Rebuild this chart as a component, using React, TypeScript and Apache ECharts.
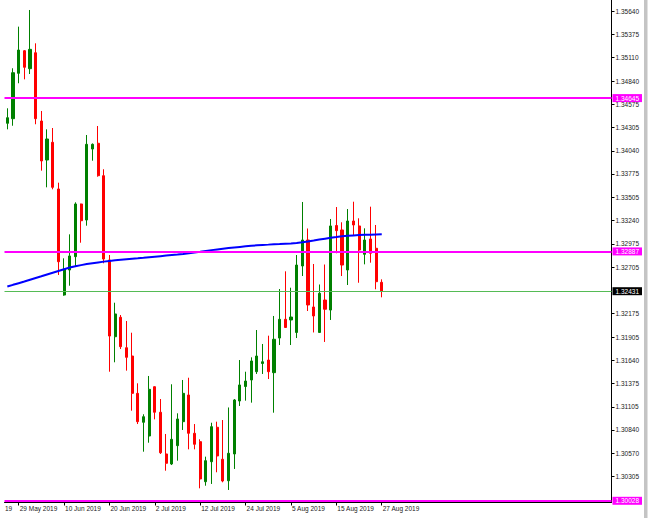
import React, { useEffect, useRef } from "react";
import * as echarts from "echarts";

const categories = [
  "27 May 2019", "28 May 2019", "29 May 2019", "30 May 2019", "31 May 2019",
  "3 Jun 2019", "4 Jun 2019", "5 Jun 2019", "6 Jun 2019", "7 Jun 2019",
  "10 Jun 2019", "11 Jun 2019", "12 Jun 2019", "13 Jun 2019", "14 Jun 2019",
  "17 Jun 2019", "18 Jun 2019", "19 Jun 2019", "20 Jun 2019", "21 Jun 2019",
  "24 Jun 2019", "25 Jun 2019", "26 Jun 2019", "27 Jun 2019", "28 Jun 2019",
  "1 Jul 2019", "2 Jul 2019", "3 Jul 2019", "4 Jul 2019", "5 Jul 2019",
  "8 Jul 2019", "9 Jul 2019", "10 Jul 2019", "11 Jul 2019", "12 Jul 2019",
  "15 Jul 2019", "16 Jul 2019", "17 Jul 2019", "18 Jul 2019", "19 Jul 2019",
  "22 Jul 2019", "23 Jul 2019", "24 Jul 2019", "25 Jul 2019", "26 Jul 2019",
  "29 Jul 2019", "30 Jul 2019", "31 Jul 2019", "1 Aug 2019", "2 Aug 2019",
  "5 Aug 2019", "6 Aug 2019", "7 Aug 2019", "8 Aug 2019", "9 Aug 2019",
  "12 Aug 2019", "13 Aug 2019", "14 Aug 2019", "15 Aug 2019", "16 Aug 2019",
  "19 Aug 2019", "20 Aug 2019", "21 Aug 2019", "22 Aug 2019", "23 Aug 2019",
  "26 Aug 2019", "27 Aug 2019",
];

const xLabelDates = [
  "29 May 2019", "10 Jun 2019", "20 Jun 2019", "2 Jul 2019", "12 Jul 2019",
  "24 Jul 2019", "5 Aug 2019", "15 Aug 2019", "27 Aug 2019",
];

const opens = [
  1.34356, 1.34409, 1.34929, 1.35188, 1.34982, 1.35165, 1.34382, 1.33935, 1.34138, 1.33603,
  1.32387, 1.32674, 1.32827, 1.33431, 1.33247, 1.34061, 1.34127, 1.33755, 1.32789, 1.31909,
  1.32132, 1.31783, 1.31688, 1.3126, 1.30928, 1.30771, 1.31336, 1.31043, 1.30565, 1.3045,
  1.3066, 1.30935, 1.31241, 1.30802, 1.30706, 1.30247, 1.30476, 1.30871, 1.30504, 1.30258,
  1.30565, 1.31172, 1.31338, 1.31413, 1.31508, 1.31602, 1.31642, 1.31497, 1.31894, 1.32109,
  1.32101, 1.31958, 1.3272, 1.33018, 1.3225, 1.31958, 1.3233, 1.32215, 1.33184, 1.33133,
  1.32674, 1.33236, 1.33179, 1.32854, 1.3303, 1.32923, 1.32533,
];

const highs = [
  1.34528, 1.34987, 1.35464, 1.35196, 1.35655, 1.35273, 1.34497, 1.34287, 1.34302, 1.33675,
  1.32808, 1.33083, 1.3345, 1.33435, 1.34222, 1.34125, 1.34325, 1.33829, 1.32846, 1.32299,
  1.32158, 1.32089, 1.31955, 1.31375, 1.3102, 1.31459, 1.3134, 1.31195, 1.30794, 1.31364,
  1.31031, 1.31413, 1.31439, 1.30908, 1.30733, 1.30534, 1.30923, 1.30935, 1.30954, 1.31098,
  1.31195, 1.31642, 1.31508, 1.31673, 1.31986, 1.31826, 1.31921, 1.32147, 1.32456, 1.32659,
  1.32471, 1.32846, 1.33454, 1.3315, 1.32743, 1.32508, 1.32737, 1.33259, 1.33396, 1.33221,
  1.33373, 1.33457, 1.33267, 1.33152, 1.334, 1.3319, 1.32567,
];

const lows = [
  1.34287, 1.34328, 1.34815, 1.3486, 1.34921, 1.34345, 1.33813, 1.33622, 1.33599, 1.32617,
  1.32379, 1.32494, 1.32712, 1.32987, 1.33182, 1.33927, 1.33744, 1.32751, 1.31508, 1.31616,
  1.31768, 1.3152, 1.31061, 1.30908, 1.30591, 1.30694, 1.30962, 1.30565, 1.30373, 1.30438,
  1.30488, 1.3084, 1.30618, 1.30618, 1.30171, 1.30201, 1.30221, 1.30355, 1.3024, 1.30152,
  1.30393, 1.31115, 1.31176, 1.31153, 1.31482, 1.31482, 1.31424, 1.31038, 1.31814, 1.3201,
  1.31814, 1.31894, 1.32605, 1.32204, 1.31958, 1.31952, 1.31849, 1.32101, 1.32866, 1.32605,
  1.32502, 1.33075, 1.32528, 1.32739, 1.32758, 1.32453, 1.32361,
];

const closes = [
  1.3442, 1.34936, 1.35196, 1.34998, 1.35204, 1.34409, 1.33924, 1.34176, 1.33622, 1.32769,
  1.32682, 1.32835, 1.33431, 1.33239, 1.34115, 1.34115, 1.33755, 1.328, 1.31917, 1.3217,
  1.31795, 1.31673, 1.3126, 1.30935, 1.30992, 1.31306, 1.31043, 1.30579, 1.30458, 1.30733,
  1.30966, 1.3126, 1.30802, 1.30676, 1.30278, 1.30488, 1.30878, 1.30542, 1.30255, 1.30573,
  1.31184, 1.31356, 1.31401, 1.31631, 1.31688, 1.31622, 1.31508, 1.3188, 1.32109, 1.32015,
  1.32135, 1.32731, 1.33018, 1.32273, 1.32147, 1.32407, 1.32224, 1.33179, 1.33125, 1.32731,
  1.33236, 1.3319, 1.32903, 1.33018, 1.32866, 1.3254, 1.32431,
];

const maValues = [
  1.32484, 1.32504, 1.32523, 1.32542, 1.32562, 1.32582, 1.32602, 1.32623, 1.32643, 1.32663,
  1.32683, 1.32702, 1.32717, 1.3273, 1.32742, 1.32752, 1.32761, 1.3277, 1.32778, 1.32785,
  1.32791, 1.32797, 1.32803, 1.32808, 1.32814, 1.32821, 1.32827, 1.32833, 1.32839, 1.32845,
  1.32851, 1.32858, 1.32867, 1.32876, 1.32884, 1.32893, 1.32902, 1.3291, 1.32918, 1.32925,
  1.32932, 1.32939, 1.32946, 1.32952, 1.32957, 1.32962, 1.32965, 1.32969, 1.32972, 1.32976,
  1.32979, 1.32984, 1.32992, 1.33002, 1.33012, 1.33023, 1.33033, 1.33043, 1.33052, 1.33062,
  1.33067, 1.33071, 1.33074, 1.33077, 1.33079, 1.33081, 1.33083,
];

const yTickLabels = [
  1.30305, 1.3057, 1.3084, 1.31105, 1.31375, 1.3164, 1.31905, 1.32175, 1.32705, 1.32975,
  1.3324, 1.33505, 1.33775, 1.3404, 1.34305, 1.34575, 1.3484, 1.3511, 1.35375, 1.3564,
];

const levelLines = [1.34645, 1.32887, 1.30028];
const lastPrice = 1.32431;

const FONT = "Liberation Sans, Arial, sans-serif";

export default function App() {
  const ref = useRef<HTMLDivElement>(null);
  useEffect(() => {
    document.body.style.margin = "0";
    const chart = echarts.init(ref.current!, null, { renderer: "svg" });
    const totalSlots = 107;
    const cats = categories.concat(Array(totalSlots - categories.length).fill(""));
    const candles = categories.map((_, i) => [opens[i], closes[i], lows[i], highs[i]]);
    const showLabel = (_i: number, v: string) => xLabelDates.indexOf(v) >= 0;
    const boxLabel = (bg: string) => ({
      show: true,
      position: "end",
      distance: 1,
      formatter: (p: any) => Number(p.value).toFixed(5),
      color: "#ffffff",
      backgroundColor: bg,
      padding: [1, 3, 0, 3],
      fontSize: 6.5,
      fontFamily: FONT,
    });
    const option: any = {
      animation: false,
      backgroundColor: "#ffffff",
      grid: { left: 4.5, right: 39.5, top: 0, bottom: 21, containLabel: false },
      xAxis: {
        type: "category",
        data: cats,
        boundaryGap: true,
        axisLine: { show: true, lineStyle: { color: "#000000", width: 1 } },
        axisTick: { show: true, interval: showLabel, alignWithLabel: true, length: 3.5, lineStyle: { color: "#000000" } },
        axisLabel: {
          show: true,
          interval: showLabel,
          align: "left",
          margin: 3,
          padding: [0, 0, 0, 1],
          fontSize: 6.5,
          fontFamily: FONT,
          color: "#222222",
        },
        splitLine: { show: false },
      },
      yAxis: {
        type: "value",
        position: "right",
        min: 1.300142,
        max: 1.357696,
        scale: true,
        axisLine: { show: true, lineStyle: { color: "#000000", width: 1 } },
        axisTick: { show: true, customValues: yTickLabels, length: 3, inside: false, lineStyle: { color: "#000000" } },
        axisLabel: {
          show: true,
          customValues: yTickLabels,
          margin: 4,
          fontSize: 6.5,
          fontFamily: FONT,
          color: "#222222",
          formatter: (v: number) => v.toFixed(5),
        },
        splitLine: { show: false },
      },
      series: [
        {
          type: "candlestick",
          data: candles,
          barWidth: 2.6,
          z: 2,
          itemStyle: {
            color: "#008000",
            color0: "#ff0000",
            borderColor: "#008000",
            borderColor0: "#ff0000",
            borderWidth: 1,
          },
        },
        {
          type: "line",
          data: maValues,
          z: 3,
          symbol: "none",
          silent: true,
          lineStyle: { color: "#0000ff", width: 2 },
          markLine: {
            symbol: "none",
            silent: true,
            animation: false,
            precision: 5,
            data: [
              {
                yAxis: lastPrice,
                lineStyle: { color: "#55bb55", width: 1, type: "solid" },
                label: boxLabel("#000000"),
              },
              ...levelLines.map((v) => ({
                yAxis: v,
                lineStyle: { color: "#ff00ff", width: 2, type: "solid" },
                label: boxLabel("#ff00ff"),
              })),
            ],
          },
        },
      ],
      graphic: [
        {
          type: "rect",
          shape: { x: 644, y: 0, width: 3.5, height: 518 },
          style: { fill: "#c4c4c4" },
          silent: true,
        },
        {
          type: "text",
          x: 5,
          y: 505,
          style: { text: "19", fontSize: 6.5, fontFamily: FONT, fill: "#222222" },
          silent: true,
        },
      ],
    };
    chart.setOption(option);
    return () => chart.dispose();
  }, []);
  return (
    <div
      ref={ref}
      style={{ position: "fixed", left: 0, top: 0, width: 651, height: 523, background: "#ffffff" }}
    />
  );
}
